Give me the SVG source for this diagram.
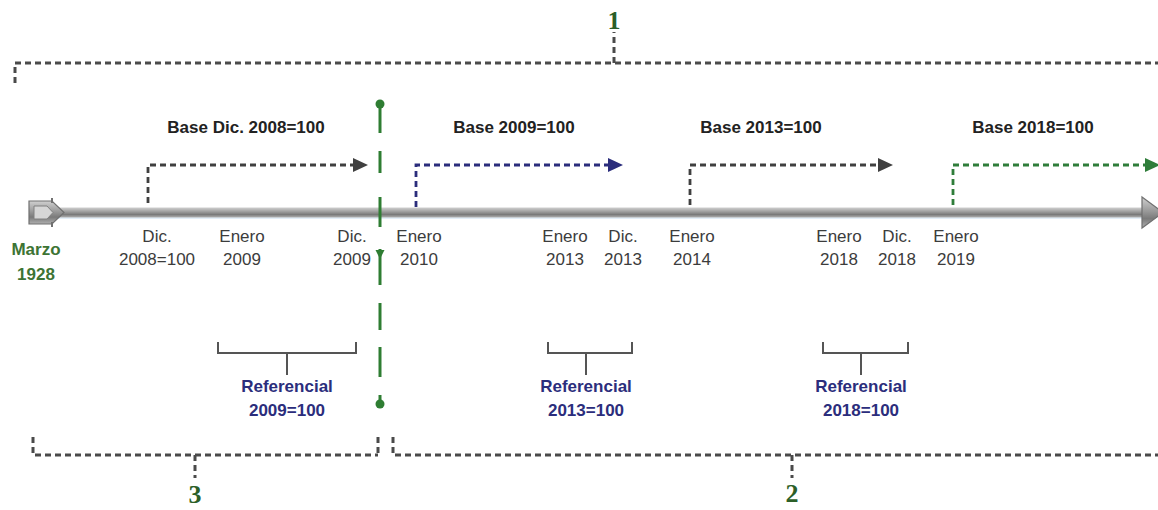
<svg xmlns="http://www.w3.org/2000/svg" width="1158" height="510" viewBox="0 0 1158 510">
<style>
.ax{font-family:"Liberation Sans",Arial,sans-serif;font-size:17px;fill:#3c3c3c;text-anchor:middle}
.base{font-family:"Liberation Sans",Arial,sans-serif;font-size:17px;font-weight:bold;fill:#222;text-anchor:middle}
.ref{font-family:"Liberation Sans",Arial,sans-serif;font-size:17px;font-weight:bold;fill:#2b2d7c;text-anchor:middle}
.grn{font-family:"Liberation Sans",Arial,sans-serif;font-size:17px;font-weight:bold;fill:#3d7434;text-anchor:middle}
.num{font-family:"Liberation Serif","Times New Roman",serif;font-size:26px;font-weight:bold;fill:#2c5f28;text-anchor:middle}
.br{fill:none;stroke:#4a4a4a;stroke-width:3;stroke-dasharray:6 4}
.dk{fill:none;stroke:#404040;stroke-width:2.8;stroke-dasharray:6 4}
.nv{fill:none;stroke:#2b2d7c;stroke-width:2.8;stroke-dasharray:6 4}
.gd{fill:none;stroke:#2f7d3a;stroke-width:2.8;stroke-dasharray:6 4}
.rb{fill:none;stroke:#555;stroke-width:2}
.gl{fill:none;stroke:#2e7d32;stroke-width:3}
</style>
<defs>
<linearGradient id="bar" x1="0" y1="0" x2="0" y2="1">
<stop offset="0" stop-color="#d0d0d0"/>
<stop offset="0.45" stop-color="#9a9a9a"/>
<stop offset="0.7" stop-color="#7a7a7a"/>
<stop offset="1" stop-color="#b0b0b0"/>
</linearGradient>
<marker id="ak" viewBox="0 0 15 14" refX="0" refY="7" markerWidth="15" markerHeight="14" markerUnits="userSpaceOnUse" orient="auto"><path d="M0,0 L15,7 L0,14 z" fill="#404040"/></marker>
<marker id="an" viewBox="0 0 15 14" refX="0" refY="7" markerWidth="15" markerHeight="14" markerUnits="userSpaceOnUse" orient="auto"><path d="M0,0 L15,7 L0,14 z" fill="#2b2d7c"/></marker>
<marker id="ag" viewBox="0 0 15 14" refX="0" refY="7" markerWidth="15" markerHeight="14" markerUnits="userSpaceOnUse" orient="auto"><path d="M0,0 L15,7 L0,14 z" fill="#2f7d3a"/></marker>
</defs>
<rect width="1158" height="510" fill="#fff"/>

<g id="timeline">
<rect x="55" y="215" width="1092" height="4" fill="#e3eef8"/>
<rect x="55" y="207.5" width="1092" height="10" fill="url(#bar)"/>
<polygon points="29,201 52,201 64,212.5 52,224 29,224" fill="url(#bar)" stroke="#707070" stroke-width="1.2"/>
<polygon points="34,206 47,206 53,212.5 47,219 34,219" fill="#d6d6d6" stroke="#808080" stroke-width="1"/>
<line x1="52" y1="198" x2="52" y2="203" stroke="#707070" stroke-width="2"/>
<line x1="52" y1="222" x2="52" y2="227" stroke="#707070" stroke-width="2"/>
<polygon points="1142,197 1163,212.5 1142,228" fill="url(#bar)" stroke="#707070" stroke-width="1.2"/>
</g>

<g id="connectors">
<path class="dk" d="M148,203 V165 H353" marker-end="url(#ak)"/>
<path class="nv" d="M416,207 V165 H608" marker-end="url(#an)"/>
<path class="dk" d="M690,205 V165 H878" marker-end="url(#ak)"/>
<path class="gd" d="M953,205 V165 H1145" marker-end="url(#ag)"/>
</g>

<g id="divider">
<circle cx="380" cy="104" r="4.5" fill="#2e7d32"/>
<line class="gl" x1="380" y1="104" x2="380" y2="133"/>
<line class="gl" x1="380" y1="151" x2="380" y2="173"/>
<line class="gl" x1="380" y1="197" x2="380" y2="227"/>
<path d="M375.5,250 L384.5,250 L380,259 z" fill="#2e7d32"/>
<line class="gl" x1="380" y1="249" x2="380" y2="285"/>
<line class="gl" x1="380" y1="303" x2="380" y2="330"/>
<line class="gl" x1="380" y1="347" x2="380" y2="377"/>
<line class="gl" x1="380" y1="395" x2="380" y2="403"/>
<circle cx="380" cy="404" r="4.5" fill="#2e7d32"/>
</g>

<g id="bracket-1">
<path class="br" d="M15,83 V63 H1162"/>
<path class="br" d="M614,63 V32"/>
<text class="num" x="614" y="29">1</text>
</g>
<g id="bracket-3">
<path class="br" d="M33,437 V455 H378"/>
<path class="br" d="M378,437 V455"/>
<path class="br" d="M195,455 V478"/>
<text class="num" x="195" y="503">3</text>
</g>
<g id="bracket-2">
<path class="br" d="M393,437 V455 H1162"/>
<path class="br" d="M792,455 V478"/>
<text class="num" x="792" y="502">2</text>
</g>

<g id="base-labels">
<text class="base" x="246" y="133">Base Dic. 2008=100</text>
<text class="base" x="514" y="133">Base 2009=100</text>
<text class="base" x="761" y="133">Base 2013=100</text>
<text class="base" x="1033" y="133">Base 2018=100</text>
</g>

<g id="start-label">
<text class="grn" x="36" y="255">Marzo</text>
<text class="grn" x="36" y="280">1928</text>
</g>

<g id="axis-labels">
<text class="ax" x="157" y="242">Dic.</text><text class="ax" x="157" y="265">2008=100</text>
<text class="ax" x="242" y="242">Enero</text><text class="ax" x="242" y="265">2009</text>
<text class="ax" x="352" y="242">Dic.</text><text class="ax" x="352" y="265">2009</text>
<text class="ax" x="419" y="242">Enero</text><text class="ax" x="419" y="265">2010</text>
<text class="ax" x="565" y="242">Enero</text><text class="ax" x="565" y="265">2013</text>
<text class="ax" x="623" y="242">Dic.</text><text class="ax" x="623" y="265">2013</text>
<text class="ax" x="692" y="242">Enero</text><text class="ax" x="692" y="265">2014</text>
<text class="ax" x="839" y="242">Enero</text><text class="ax" x="839" y="265">2018</text>
<text class="ax" x="897" y="242">Dic.</text><text class="ax" x="897" y="265">2018</text>
<text class="ax" x="956" y="242">Enero</text><text class="ax" x="956" y="265">2019</text>
</g>

<g id="ref-2009">
<path class="rb" d="M218,342 V353 H356 V342 M287,353 V375"/>
<text class="ref" x="287" y="392">Referencial</text>
<text class="ref" x="287" y="416">2009=100</text>
</g>
<g id="ref-2013">
<path class="rb" d="M548,342 V353 H632 V342 M586,353 V375"/>
<text class="ref" x="586" y="392">Referencial</text>
<text class="ref" x="586" y="416">2013=100</text>
</g>
<g id="ref-2018">
<path class="rb" d="M823,342 V353 H908 V342 M861,353 V375"/>
<text class="ref" x="861" y="392">Referencial</text>
<text class="ref" x="861" y="416">2018=100</text>
</g>
</svg>
